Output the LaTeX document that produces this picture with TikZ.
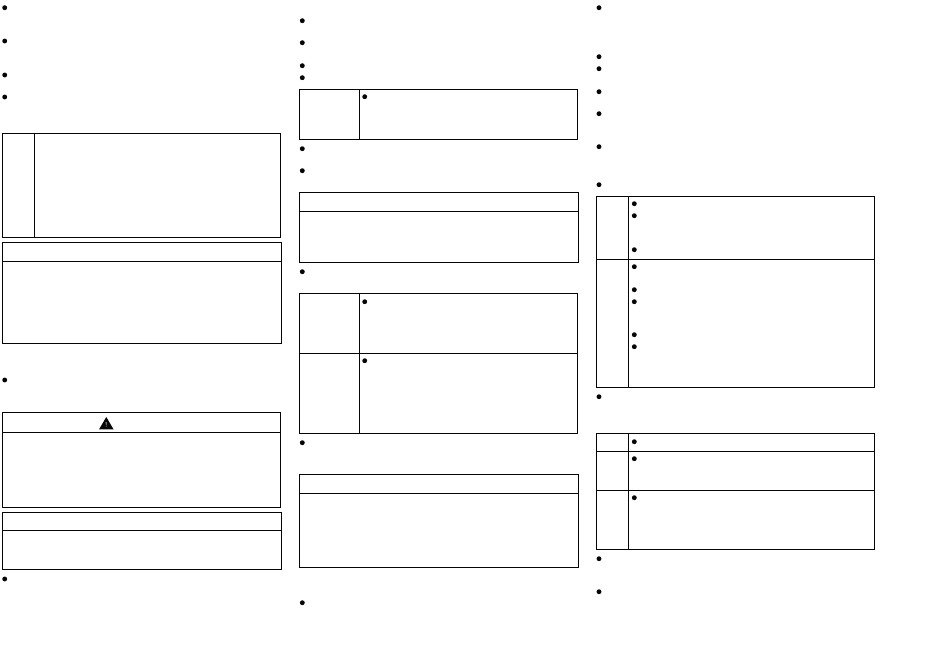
\documentclass[tikz,border=0pt]{standalone}
\usepackage{xcolor}
\usetikzlibrary{positioning, shapes.geometric}
\definecolor{pageink}{RGB}{5,5,5}

\tikzset{
    listdot/.style={circle, fill=pageink, inner sep=0pt, minimum size=4.9pt},
    framebox/.style={draw=pageink, line width=1.15pt, anchor=north west, inner sep=0pt, outer sep=0pt},
    rule/.style={draw=pageink, line width=1.15pt}
}

\begin{document}
\begin{tikzpicture}[x=1pt, y=-1pt]
    \useasboundingbox (0,0) rectangle (950,658);

    % left column
    \foreach \y [count=\n] in {7.7, 41, 75, 97, 380, 579}
        \node[listdot] (lefta\n) at (4.7,\y) {};

    \node[framebox, minimum width=278pt, minimum height=104pt] (noteone) at (2.7,133.3) {};
    \draw[rule] (34.3,133.3) -- (34.3,237.3);

    \node[framebox, minimum width=279pt, minimum height=101pt] (cautionone) at (2.7,242.3) {};
    \draw[rule] (cautionone.west |- 0,261.3) -- (cautionone.east |- 0,261.3);

    \node[framebox, minimum width=278pt, minimum height=95pt] (warnbox) at (2.7,412.3) {};
    \draw[rule] (warnbox.west |- 0,432.3) -- (warnbox.east |- 0,432.3);
    \fill[pageink] (99,429.4) -- (106.3,417) -- (113.6,429.4) -- cycle;
    \node[text=white, font=\fontsize{7}{7}\selectfont, inner sep=0pt] (warnmark) at (106.3,424.8) {!};

    \node[framebox, minimum width=279pt, minimum height=57pt] (cautiontwo) at (2.7,512.3) {};
    \draw[rule] (cautiontwo.west |- 0,530.3) -- (cautiontwo.east |- 0,530.3);

    % middle column
    \foreach \y [count=\n] in {20.7, 42.7, 65.7, 77.7, 148.7, 170.7, 271.7, 442.7, 602.7}
        \node[listdot] (midb\n) at (302.3,\y) {};

    \node[framebox, minimum width=278.4pt, minimum height=50pt] (notetwo) at (299.3,89.3) {};
    \draw[rule] (359.3,89.3) -- (359.3,139.3);
    \node[listdot] (notetwodot) at (364.7,96.7) {};

    \node[framebox, minimum width=279.4pt, minimum height=70pt] (cautionthree) at (299.3,192.3) {};
    \draw[rule] (cautionthree.west |- 0,211.3) -- (cautionthree.east |- 0,211.3);

    \node[framebox, minimum width=278.4pt, minimum height=140pt] (notethree) at (299.3,293.3) {};
    \draw[rule] (359.3,293.3) -- (359.3,433.3);
    \draw[rule] (notethree.west |- 0,353.3) -- (notethree.east |- 0,353.3);
    \foreach \y [count=\n] in {301.7, 360.7}
        \node[listdot] (notethreedot\n) at (364.7,\y) {};

    \node[framebox, minimum width=279.4pt, minimum height=93pt] (cautionfour) at (299.3,474.3) {};
    \draw[rule] (cautionfour.west |- 0,493.3) -- (cautionfour.east |- 0,493.3);

    % right column
    \foreach \y [count=\n] in {7.7, 56.7, 68.7, 91.7, 113.7, 146.7, 184.7, 396.7, 558.7, 591.7}
        \node[listdot] (rightc\n) at (599,\y) {};

    \node[framebox, minimum width=278pt, minimum height=191pt] (notefour) at (596.3,196.3) {};
    \draw[rule] (628.3,196.3) -- (628.3,387.3);
    \draw[rule] (notefour.west |- 0,259.3) -- (notefour.east |- 0,259.3);
    \foreach \y [count=\n] in {203.7, 215.7, 249.7, 266.7, 289.7, 301.7, 334.7, 346.7}
        \node[listdot] (notefourdot\n) at (634.3,\y) {};

    \node[framebox, minimum width=278pt, minimum height=116pt] (notefive) at (596.3,433.3) {};
    \draw[rule] (628.3,433.3) -- (628.3,549.3);
    \draw[rule] (notefive.west |- 0,451.3) -- (notefive.east |- 0,451.3);
    \draw[rule] (notefive.west |- 0,490.3) -- (notefive.east |- 0,490.3);
    \foreach \y [count=\n] in {441.7, 458.7, 497.7}
        \node[listdot] (notefivedot\n) at (634.3,\y) {};
\end{tikzpicture}
\end{document}
